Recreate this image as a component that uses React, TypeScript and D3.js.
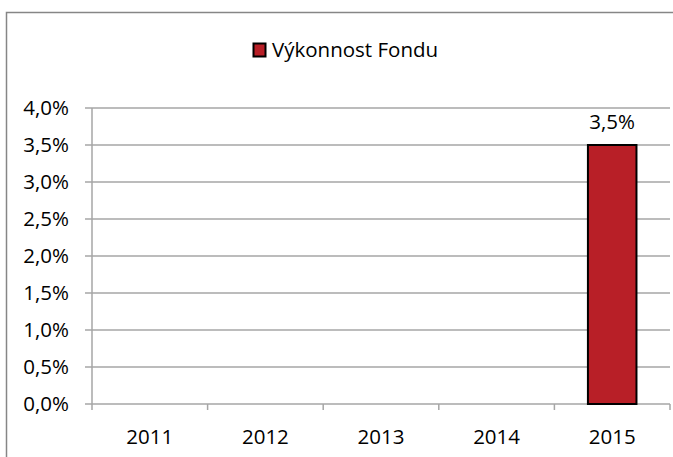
import React, { useEffect, useRef } from 'react';
import * as d3 from 'd3';

// chart data
const years = ['2011', '2012', '2013', '2014', '2015'];
const performance: (number | null)[] = [null, null, null, null, 3.5];
const yTicks = [0, 0.5, 1, 1.5, 2, 2.5, 3, 3.5, 4];
const seriesName = 'Výkonnost Fondu';

const W = 673;
const H = 457;
const FONT = "'Open Sans', 'Noto Sans', sans-serif";

const App = () => {
  const ref = useRef<SVGSVGElement>(null);

  useEffect(() => {
    const svg = d3.select(ref.current);
    svg.selectAll('*').remove();

    const x = d3.scaleBand<string>().domain(years).range([92, 670]).padding(0);
    const y = d3.scaleLinear().domain([0, 4]).range([404, 108]);
    const cz = d3.formatLocale({ decimal: ',', thousands: ' ', grouping: [3], currency: ['', ' Kč'] });
    const pct = (v: number) => cz.format('.1f')(v) + '%';

    // outer frame (clipped on right and bottom)
    svg.append('path')
      .attr('d', `M6.5,${H} V12.5 H${W}`)
      .attr('fill', 'none')
      .attr('stroke', '#868686')
      .attr('stroke-width', 1.5);

    // gridlines
    svg.append('g')
      .selectAll('line')
      .data(yTicks)
      .enter().append('line')
      .attr('x1', 85)
      .attr('x2', 670)
      .attr('y1', d => y(d))
      .attr('y2', d => y(d))
      .attr('stroke', '#a6a6a6')
      .attr('stroke-width', 1.5);

    // y axis line
    svg.append('line')
      .attr('x1', 92).attr('x2', 92)
      .attr('y1', y(4)).attr('y2', y(0))
      .attr('stroke', '#a6a6a6')
      .attr('stroke-width', 1.5);

    // y labels
    svg.append('g')
      .selectAll('text')
      .data(yTicks)
      .enter().append('text')
      .attr('x', 69)
      .attr('y', d => y(d))
      .attr('dy', '0.35em')
      .attr('text-anchor', 'end')
      .style('font-family', FONT)
      .style('font-size', '20.5px')
      .attr('fill', '#000')
      .text(d => pct(d));

    // x ticks at band edges
    const edges = years.map(d => x(d) as number).concat([670]);
    svg.append('g')
      .selectAll('line')
      .data(edges)
      .enter().append('line')
      .attr('x1', d => d).attr('x2', d => d)
      .attr('y1', y(0)).attr('y2', y(0) + 6)
      .attr('stroke', '#a6a6a6')
      .attr('stroke-width', 1.5);

    // x labels
    svg.append('g')
      .selectAll('text')
      .data(years)
      .enter().append('text')
      .attr('x', d => (x(d) as number) + x.bandwidth() / 2)
      .attr('y', 444)
      .attr('text-anchor', 'middle')
      .style('font-family', FONT)
      .style('font-size', '20.5px')
      .attr('fill', '#000')
      .text(d => d);

    // bars
    const barW = x.bandwidth() * 0.42;
    const data = years.map((yr, i) => ({ yr, v: performance[i] })).filter(d => d.v != null) as { yr: string; v: number }[];
    svg.append('g')
      .selectAll('rect')
      .data(data)
      .enter().append('rect')
      .attr('x', d => (x(d.yr) as number) + x.bandwidth() / 2 - barW / 2)
      .attr('y', d => y(d.v))
      .attr('width', barW)
      .attr('height', d => y(0) - y(d.v))
      .attr('fill', '#b81f27')
      .attr('stroke', '#000')
      .attr('stroke-width', 2);

    // data labels
    svg.append('g')
      .selectAll('text')
      .data(data)
      .enter().append('text')
      .attr('x', d => (x(d.yr) as number) + x.bandwidth() / 2)
      .attr('y', d => y(d.v) - 16)
      .attr('text-anchor', 'middle')
      .style('font-family', FONT)
      .style('font-size', '20.5px')
      .attr('fill', '#000')
      .text(d => pct(d.v));

    // legend
    const lg = svg.append('g');
    lg.append('rect')
      .attr('x', 253.5).attr('y', 43.5)
      .attr('width', 12).attr('height', 13)
      .attr('fill', '#b81f27')
      .attr('stroke', '#000')
      .attr('stroke-width', 2);
    lg.append('text')
      .attr('x', 272)
      .attr('y', 57)
      .style('font-family', FONT)
      .style('font-size', '20.5px')
      .attr('fill', '#000')
      .text(seriesName);
  }, []);

  return (
    <svg
      ref={ref}
      width={W}
      height={H}
      style={{ position: 'absolute', left: 0, top: 0, background: '#fff' }}
    ></svg>
  );
};

export default App;
